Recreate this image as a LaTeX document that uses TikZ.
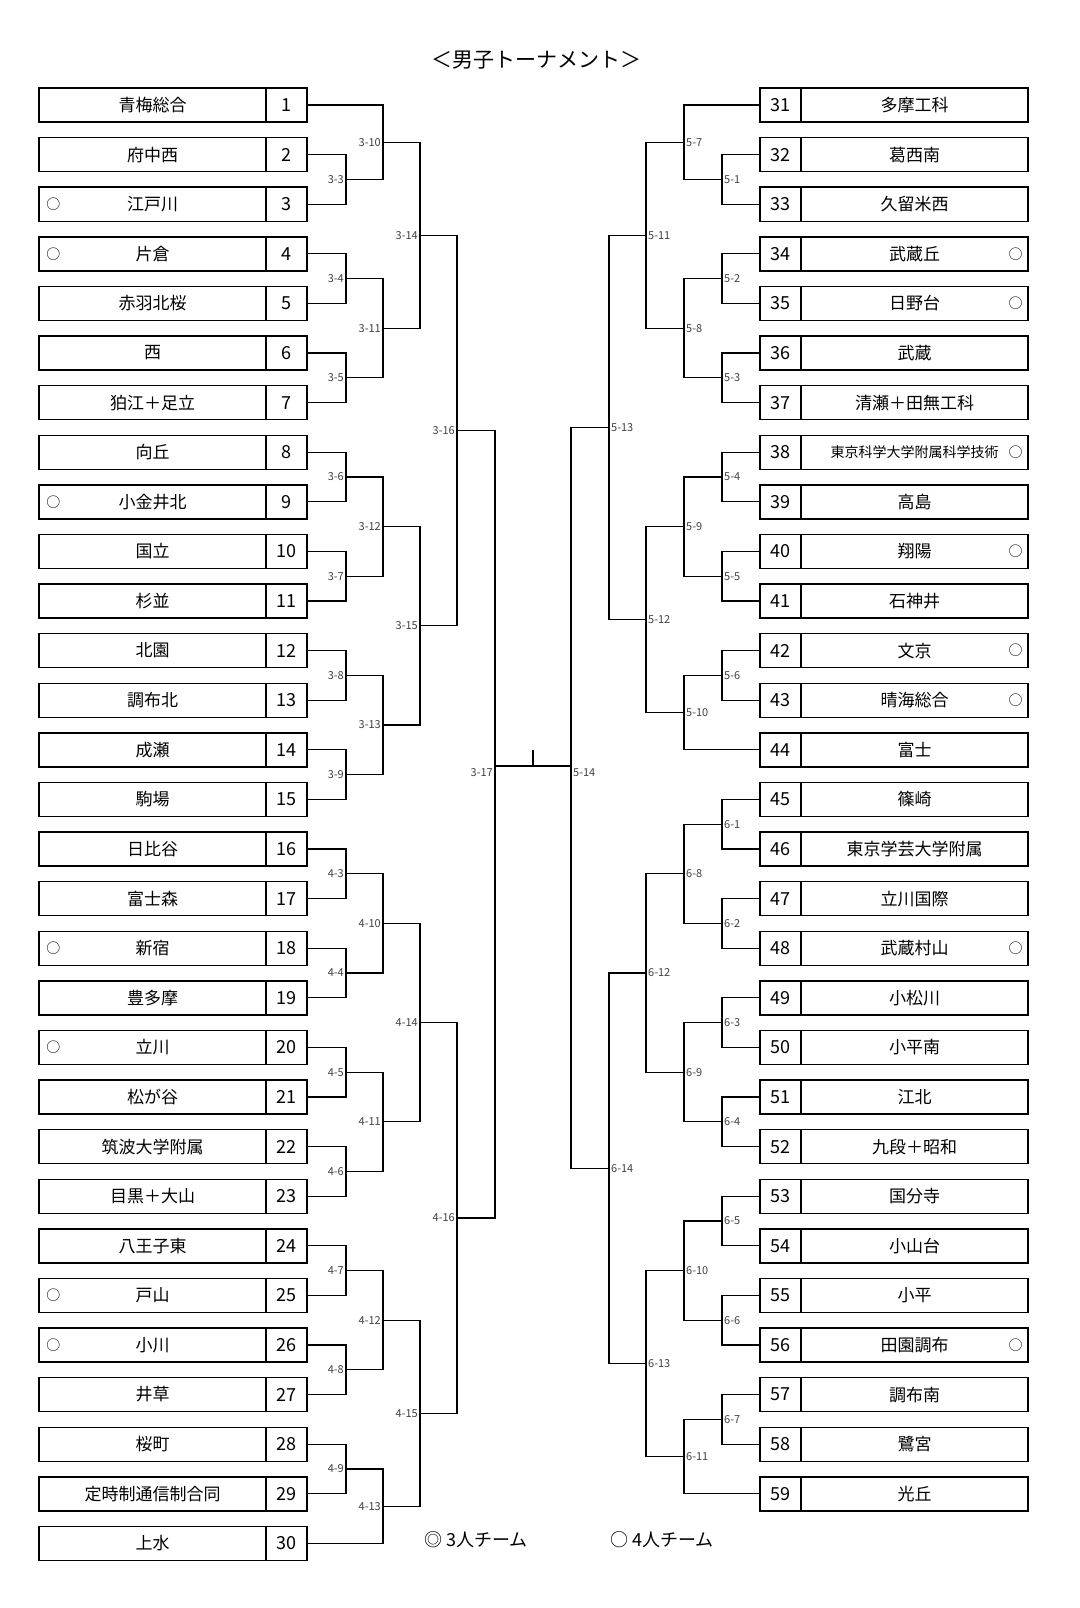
\documentclass[tikz,border=0pt]{standalone}
\usepackage{fontspec}
\setmainfont{Noto Sans CJK JP}
\usetikzlibrary{calc}

\tikzset{
  bline/.style={line width=1.3pt},
  namebox/.style={draw,line width=1.4pt,minimum width=227pt,minimum height=34pt,inner sep=0pt,font=\fontsize{17}{17}\selectfont},
  numbox/.style={draw,line width=1.4pt,minimum width=41pt,minimum height=34pt,inner sep=0pt,font=\fontsize{18}{18}\selectfont},
  lbl/.style={inner sep=2pt,font=\fontsize{11}{11}\selectfont,text=black!75},
  fourmark/.style={font=\fontsize{14}{14}\selectfont}
}

% one match: name, upper, lower, x, label, label anchor
\newcommand\bout[6]{%
  \draw[bline] let \p1=(#2), \p2=(#3) in
    (#2) -- (#4pt,\y1) -- (#4pt,\y2) -- (#3)
    coordinate (#1) at (#4pt,{(\y1+\y2)/2});
  \node[lbl,anchor=#6] at (#1) {#5};
}

\begin{document}
\begin{tikzpicture}[x=1pt,y=-1pt]
\useasboundingbox (0,0) rectangle (1079,1608);

\node[font=\fontsize{21}{21}\selectfont] (title) at (536,60) {＜男子トーナメント＞};

% left teams
\foreach \i/\nm/\mk in {1/青梅総合/0,2/府中西/0,3/江戸川/1,4/片倉/1,5/赤羽北桜/0,6/西/0,7/狛江＋足立/0,8/向丘/0,9/小金井北/1,10/国立/0,11/杉並/0,12/北園/0,13/調布北/0,14/成瀬/0,15/駒場/0,16/日比谷/0,17/富士森/0,18/新宿/1,19/豊多摩/0,20/立川/1,21/松が谷/0,22/筑波大学附属/0,23/目黒＋大山/0,24/八王子東/0,25/戸山/1,26/小川/1,27/井草/0,28/桜町/0,29/定時制通信制合同/0,30/上水/0}{
  \pgfmathsetmacro\yy{105+(\i-1)*49.6}
  \node[namebox] (n\i) at (152.5,\yy) {\nm};
  \node[numbox] (c\i) at (286.5,\yy) {\i};
  \coordinate (p\i) at (c\i.east);
  \ifnum\mk=1 \node[fourmark] at ([xshift=15pt]n\i.west) {○}; \fi
}

% right teams
\foreach \i/\nm/\mk in {31/多摩工科/0,32/葛西南/0,33/久留米西/0,34/武蔵丘/1,35/日野台/1,36/武蔵/0,37/清瀬＋田無工科/0,38/{\fontsize{14}{14}\selectfont 東京科学大学附属科学技術}/1,39/高島/0,40/翔陽/1,41/石神井/0,42/文京/1,43/晴海総合/1,44/富士/0,45/篠崎/0,46/東京学芸大学附属/0,47/立川国際/0,48/武蔵村山/1,49/小松川/0,50/小平南/0,51/江北/0,52/九段＋昭和/0,53/国分寺/0,54/小山台/0,55/小平/0,56/田園調布/1,57/調布南/0,58/鷺宮/0,59/光丘/0}{
  \pgfmathsetmacro\yy{105+(\i-31)*49.6}
  \node[numbox] (c\i) at (780.5,\yy) {\i};
  \node[namebox] (n\i) at (914.5,\yy) {\nm};
  \coordinate (p\i) at (c\i.west);
  \ifnum\mk=1 \node[fourmark] at ([xshift=-13pt]n\i.east) {○}; \fi
}

% left bracket
\bout{m3x3}{p2}{p3}{346}{3-3}{east}
\bout{m3x10}{p1}{m3x3}{383}{3-10}{east}
\bout{m3x4}{p4}{p5}{346}{3-4}{east}
\bout{m3x5}{p6}{p7}{346}{3-5}{east}
\bout{m3x11}{m3x4}{m3x5}{383}{3-11}{east}
\bout{m3x14}{m3x10}{m3x11}{420}{3-14}{east}
\bout{m3x6}{p8}{p9}{346}{3-6}{east}
\bout{m3x7}{p10}{p11}{346}{3-7}{east}
\bout{m3x12}{m3x6}{m3x7}{383}{3-12}{east}
\bout{m3x8}{p12}{p13}{346}{3-8}{east}
\bout{m3x9}{p14}{p15}{346}{3-9}{east}
\bout{m3x13}{m3x8}{m3x9}{383}{3-13}{east}
\bout{m3x15}{m3x12}{m3x13}{420}{3-15}{east}
\bout{m3x16}{m3x14}{m3x15}{457}{3-16}{east}
\bout{m4x3}{p16}{p17}{346}{4-3}{east}
\bout{m4x4}{p18}{p19}{346}{4-4}{east}
\bout{m4x10}{m4x3}{m4x4}{383}{4-10}{east}
\bout{m4x5}{p20}{p21}{346}{4-5}{east}
\bout{m4x6}{p22}{p23}{346}{4-6}{east}
\bout{m4x11}{m4x5}{m4x6}{383}{4-11}{east}
\bout{m4x14}{m4x10}{m4x11}{420}{4-14}{east}
\bout{m4x7}{p24}{p25}{346}{4-7}{east}
\bout{m4x8}{p26}{p27}{346}{4-8}{east}
\bout{m4x12}{m4x7}{m4x8}{383}{4-12}{east}
\bout{m4x9}{p28}{p29}{346}{4-9}{east}
\bout{m4x13}{m4x9}{p30}{383}{4-13}{east}
\bout{m4x15}{m4x12}{m4x13}{420}{4-15}{east}
\bout{m4x16}{m4x14}{m4x15}{457}{4-16}{east}

% right bracket
\bout{m5x1}{p32}{p33}{722}{5-1}{west}
\bout{m5x7}{p31}{m5x1}{684}{5-7}{west}
\bout{m5x2}{p34}{p35}{722}{5-2}{west}
\bout{m5x3}{p36}{p37}{722}{5-3}{west}
\bout{m5x8}{m5x2}{m5x3}{684}{5-8}{west}
\bout{m5x11}{m5x7}{m5x8}{646}{5-11}{west}
\bout{m5x4}{p38}{p39}{722}{5-4}{west}
\bout{m5x5}{p40}{p41}{722}{5-5}{west}
\bout{m5x9}{m5x4}{m5x5}{684}{5-9}{west}
\bout{m5x6}{p42}{p43}{722}{5-6}{west}
\bout{m5x10}{m5x6}{p44}{684}{5-10}{west}
\bout{m5x12}{m5x9}{m5x10}{646}{5-12}{west}
\bout{m5x13}{m5x11}{m5x12}{609}{5-13}{west}
\bout{m6x1}{p45}{p46}{722}{6-1}{west}
\bout{m6x2}{p47}{p48}{722}{6-2}{west}
\bout{m6x8}{m6x1}{m6x2}{684}{6-8}{west}
\bout{m6x3}{p49}{p50}{722}{6-3}{west}
\bout{m6x4}{p51}{p52}{722}{6-4}{west}
\bout{m6x9}{m6x3}{m6x4}{684}{6-9}{west}
\bout{m6x12}{m6x8}{m6x9}{646}{6-12}{west}
\bout{m6x5}{p53}{p54}{722}{6-5}{west}
\bout{m6x6}{p55}{p56}{722}{6-6}{west}
\bout{m6x10}{m6x5}{m6x6}{684}{6-10}{west}
\bout{m6x7}{p57}{p58}{722}{6-7}{west}
\bout{m6x11}{m6x7}{p59}{684}{6-11}{west}
\bout{m6x13}{m6x10}{m6x11}{646}{6-13}{west}
\bout{m6x14}{m6x12}{m6x13}{609}{6-14}{west}

% final
\coordinate (finl) at (495,766);
\coordinate (finr) at (571,766);
\coordinate (tick) at (533,750);
\draw[bline] (m3x16) -| (finl);
\draw[bline] (m4x16) -| (finl);
\draw[bline] (m5x13) -| (finr);
\draw[bline] (m6x14) -| (finr);
\draw[bline] (finl) -- (finr);
\draw[bline] (tick) -- (tick |- finl);
\node[lbl,anchor=north east] at (finl) {3-17};
\node[lbl,anchor=north west] at (finr) {5-14};

% legend
\node[font=\fontsize{18}{18}\selectfont] (key3) at (476,1540) {◎ 3人チーム};
\node[font=\fontsize{18}{18}\selectfont] (key4) at (662,1540) {○ 4人チーム};
\end{tikzpicture}
\end{document}
